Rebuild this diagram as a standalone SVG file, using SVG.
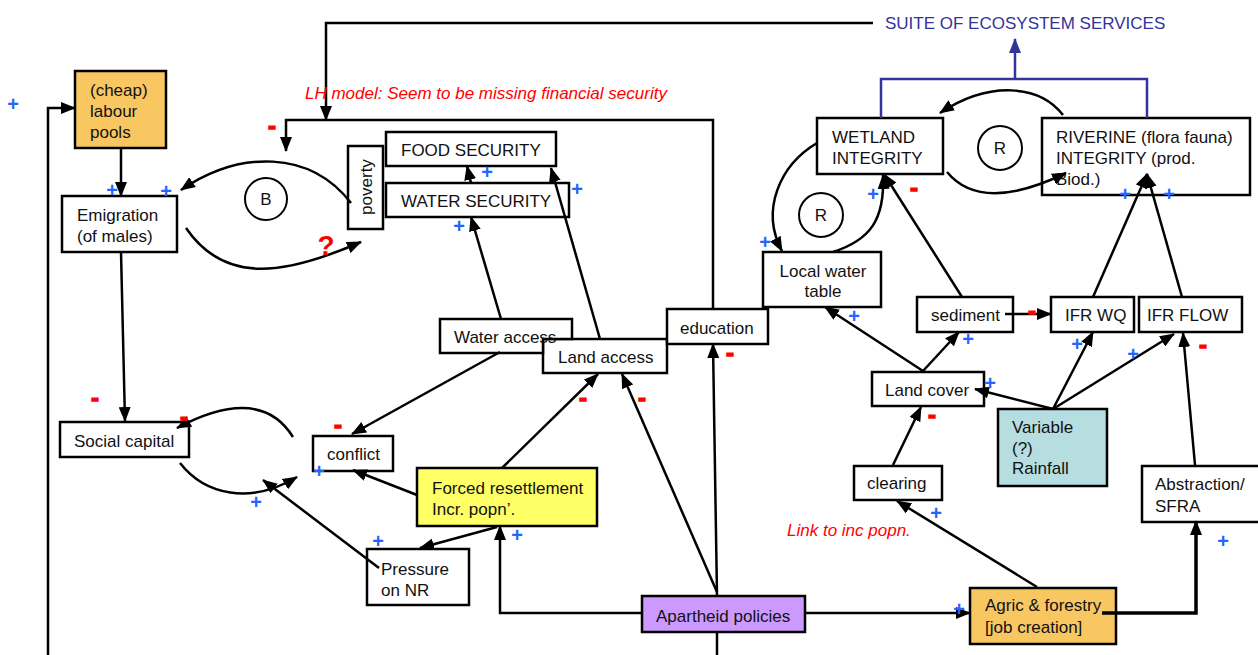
<svg xmlns="http://www.w3.org/2000/svg" width="1258" height="655" viewBox="0 0 1258 655">
<style>
text{font-family:"Liberation Sans",Arial,sans-serif;font-size:17px;fill:#111}
.box{fill:#fff;stroke:#000;stroke-width:2.5}
.c{fill:none;stroke:#000;stroke-width:2.5}
.cb{fill:none;stroke:#333399;stroke-width:2.5}
.plus{fill:#2266ff;font-weight:bold;font-size:20px;text-anchor:middle}
.minus{fill:#ff0000;stroke:#ff0000;stroke-width:1.3;font-weight:bold;font-size:24px;text-anchor:middle}
.note{fill:#ff0000;font-style:italic}
.loop{fill:none;stroke:#000;stroke-width:2}
</style>
<defs>
<marker id="arr" markerUnits="userSpaceOnUse" markerWidth="15" markerHeight="12" refX="14" refY="6" orient="auto"><path d="M0,0 L15,6 L0,12 z" fill="#000"/></marker>
<marker id="arrB" markerUnits="userSpaceOnUse" markerWidth="15" markerHeight="12" refX="14" refY="6" orient="auto"><path d="M0,0 L15,6 L0,12 z" fill="#333399"/></marker>
</defs>
<rect width="1258" height="655" fill="#fff"/>

<g id="labour"><rect class="box" x="75" y="71" width="91" height="77" style="fill:#f9c762"/><text x="90" y="96">(cheap)</text><text x="90" y="117">labour</text><text x="90" y="138">pools</text></g>
<g id="emigration"><rect class="box" x="62" y="196" width="115" height="56"/><text x="77" y="221">Emigration</text><text x="77" y="242">(of males)</text></g>
<g id="social"><rect class="box" x="60" y="422" width="129" height="35"/><text x="74" y="447">Social capital</text></g>
<g id="poverty"><rect class="box" x="348" y="146" width="35" height="83"/><text transform="translate(372,187) rotate(-90)" text-anchor="middle">poverty</text></g>
<g id="food"><rect class="box" x="386" y="132" width="170" height="34"/><text x="401" y="156">FOOD SECURITY</text></g>
<g id="water"><rect class="box" x="386" y="183" width="183" height="34"/><text x="401" y="207">WATER SECURITY</text></g>
<g id="loopB"><circle class="loop" cx="266" cy="199" r="21"/><text x="266" y="205" text-anchor="middle">B</text></g>
<g id="landaccess"><rect class="box" x="543" y="339" width="124" height="34"/><text x="558" y="363">Land access</text></g>
<g id="wateraccess"><polygon class="box" points="440,319 572,319 572,339 543,339 543,353 440,353"/><text x="454" y="343">Water access</text></g>
<g id="education"><rect class="box" x="667" y="309" width="101" height="35"/><text x="680" y="334">education</text></g>
<g id="conflict"><rect class="box" x="313" y="436" width="80" height="35"/><text x="327" y="460">conflict</text></g>
<g id="forced"><rect class="box" x="417" y="468" width="180" height="58" style="fill:#ffff66"/><text x="432" y="494">Forced resettlement</text><text x="432" y="515">Incr. popn’.</text></g>
<g id="pressure"><rect class="box" x="367" y="549" width="102" height="56"/><text x="381" y="575">Pressure</text><text x="381" y="596">on NR</text></g>
<g id="apartheid"><rect class="box" x="642" y="596" width="163" height="36" style="fill:#cc99ff"/><text x="656" y="622">Apartheid policies</text></g>
<g id="agric"><rect class="box" x="970" y="588" width="146" height="56" style="fill:#f9c762"/><text x="985" y="611">Agric &amp; forestry</text><text x="985" y="633">[job creation]</text></g>
<g id="abstraction"><rect class="box" x="1142" y="466" width="118" height="56"/><text x="1155" y="490">Abstraction/</text><text x="1155" y="512">SFRA</text></g>
<g id="clearing"><rect class="box" x="854" y="466" width="88" height="34"/><text x="867" y="489">clearing</text></g>
<g id="variable"><rect class="box" x="998" y="409" width="109" height="77" style="fill:#b6dde0"/><text x="1012" y="433">Variable</text><text x="1012" y="454">(?)</text><text x="1012" y="474">Rainfall</text></g>
<g id="landcover"><rect class="box" x="872" y="372" width="112" height="34"/><text x="885" y="396">Land cover</text></g>
<g id="sediment"><rect class="box" x="917" y="297" width="96" height="35"/><text x="931" y="321">sediment</text></g>
<g id="ifrwq"><rect class="box" x="1051" y="297" width="83" height="35"/><text x="1065" y="321">IFR WQ</text></g>
<g id="ifrflow"><rect class="box" x="1139" y="297" width="103" height="35"/><text x="1147" y="321">IFR FLOW</text></g>
<g id="localwater"><rect class="box" x="763" y="252" width="118" height="55"/><text x="823" y="277" text-anchor="middle">Local water</text><text x="823" y="297" text-anchor="middle">table</text></g>
<g id="wetland"><rect class="box" x="817" y="118" width="126" height="56"/><text x="832" y="143">WETLAND</text><text x="832" y="164">INTEGRITY</text></g>
<g id="riverine"><rect class="box" x="1042" y="118" width="208" height="77"/><text x="1056" y="143">RIVERINE (flora fauna)</text><text x="1056" y="164">INTEGRITY (prod.</text><text x="1056" y="185">Biod.)</text></g>
<g id="loopR1"><circle class="loop" cx="1000" cy="148" r="22"/><text x="1000" y="154" text-anchor="middle">R</text></g>
<g id="loopR2"><circle class="loop" cx="821" cy="215" r="22"/><text x="821" y="221" text-anchor="middle">R</text></g>
<g id="suite"><text x="885" y="29" style="fill:#333399">SUITE OF ECOSYSTEM SERVICES</text></g>

<g id="connectors">
<path class="c" d="M873,23 H326 V120" marker-end="url(#arr)"/>
<path class="c" d="M713,309 V120 H286 V151" marker-end="url(#arr)"/>
<path class="c" d="M48,655 V108 H75" marker-end="url(#arr)"/>
<path class="c" d="M121,148 V196" marker-end="url(#arr)"/>
<path class="c" d="M121,252 L125,421" marker-end="url(#arr)"/>
<path class="c" d="M351,203 C310,150 240,150 181,190" marker-end="url(#arr)"/>
<path class="c" d="M186,228 C225,285 285,275 361,242" marker-end="url(#arr)"/>
<path class="c" d="M293,437 C270,400 230,400 177,428" marker-end="url(#arr)"/>
<path class="c" d="M180,463 C205,495 250,505 297,477" marker-end="url(#arr)"/>
<path class="c" d="M379,568 L263,480" marker-end="url(#arr)"/>
<path class="c" d="M500,352 L352,434" marker-end="url(#arr)"/>
<path class="c" d="M417,495 L353,470" marker-end="url(#arr)"/>
<path class="c" d="M497,527 L420,548" marker-end="url(#arr)"/>
<path class="c" d="M642,613 H500 V526" marker-end="url(#arr)"/>
<path class="c" d="M502,468 L598,374" marker-end="url(#arr)"/>
<path class="c" d="M717,592 L622,374" marker-end="url(#arr)"/>
<path class="c" d="M717,596 L713,344" marker-end="url(#arr)"/>
<path class="c" d="M717,632 V655"/>
<path class="c" d="M805,613 H970" marker-end="url(#arr)"/>
<path class="c" d="M1102,613 H1196 V521" style="stroke-width:3.5" marker-end="url(#arr)"/>
<path class="c" d="M1037,587 L897,501" marker-end="url(#arr)"/>
<path class="c" d="M893,465 L921,407" marker-end="url(#arr)"/>
<path class="c" d="M923,371 L825,307" marker-end="url(#arr)"/>
<path class="c" d="M923,371 L959,332" marker-end="url(#arr)"/>
<path class="c" d="M1053,409 L975,389" marker-end="url(#arr)"/>
<path class="c" d="M1053,409 L1093,332" marker-end="url(#arr)"/>
<path class="c" d="M1053,409 L1174,334" marker-end="url(#arr)"/>
<path class="c" d="M1195,465 L1183,333" marker-end="url(#arr)"/>
<path class="c" d="M1005,314 H1051" marker-end="url(#arr)"/>
<path class="c" d="M1093,297 L1147,174" marker-end="url(#arr)"/>
<path class="c" d="M1182,297 L1147,174" marker-end="url(#arr)"/>
<path class="c" d="M962,297 L884,174" marker-end="url(#arr)"/>
<path class="c" d="M833,252 C870,240 885,220 883,175" marker-end="url(#arr)"/>
<path class="c" d="M817,143 C780,165 760,210 782,251" marker-end="url(#arr)"/>
<path class="c" d="M1063,115 C1040,85 990,80 940,113" marker-end="url(#arr)"/>
<path class="c" d="M947,172 C970,200 1010,200 1066,173" marker-end="url(#arr)"/>
<path class="c" d="M501,319 L471,217" marker-end="url(#arr)"/>
<path class="c" d="M600,339 L551,168" marker-end="url(#arr)"/>
<path class="c" d="M471,183 L467,166" marker-end="url(#arr)"/>
<path class="cb" d="M881,118 V79 H1147 V118"/>
<path class="cb" d="M1015,79 V39" marker-end="url(#arrB)"/>
</g>

<g id="notes">
<text class="note" x="305" y="99">LH model: Seem to be missing financial security</text>
<text class="note" x="787" y="536">Link to inc popn.</text>
<text x="326" y="255" style="fill:#ff0000;font-weight:bold;font-size:28px" text-anchor="middle">?</text>
</g>

<g id="signs">
<text class="minus" x="272" y="134">-</text>
<text class="minus" x="95" y="406">-</text>
<text class="minus" x="184" y="425">-</text>
<text class="minus" x="338" y="433">-</text>
<text class="minus" x="583" y="406">-</text>
<text class="minus" x="642" y="406">-</text>
<text class="minus" x="730" y="361">-</text>
<text class="minus" x="914" y="196">-</text>
<text class="minus" x="932" y="423">-</text>
<text class="minus" x="1032" y="319">-</text>
<text class="minus" x="1203" y="353">-</text>
<text class="plus" x="13" y="111">+</text>
<text class="plus" x="112" y="197">+</text>
<text class="plus" x="166" y="198">+</text>
<text class="plus" x="487" y="179">+</text>
<text class="plus" x="577" y="196">+</text>
<text class="plus" x="459" y="233">+</text>
<text class="plus" x="256" y="509">+</text>
<text class="plus" x="319" y="478">+</text>
<text class="plus" x="378" y="548">+</text>
<text class="plus" x="517" y="542">+</text>
<text class="plus" x="765" y="249">+</text>
<text class="plus" x="873" y="201">+</text>
<text class="plus" x="1125" y="201">+</text>
<text class="plus" x="1169" y="201">+</text>
<text class="plus" x="854" y="323">+</text>
<text class="plus" x="968" y="346">+</text>
<text class="plus" x="990" y="390">+</text>
<text class="plus" x="1077" y="351">+</text>
<text class="plus" x="1133" y="361">+</text>
<text class="plus" x="936" y="520">+</text>
<text class="plus" x="959" y="616">+</text>
<text class="plus" x="1223" y="548">+</text>
</g>
</svg>
